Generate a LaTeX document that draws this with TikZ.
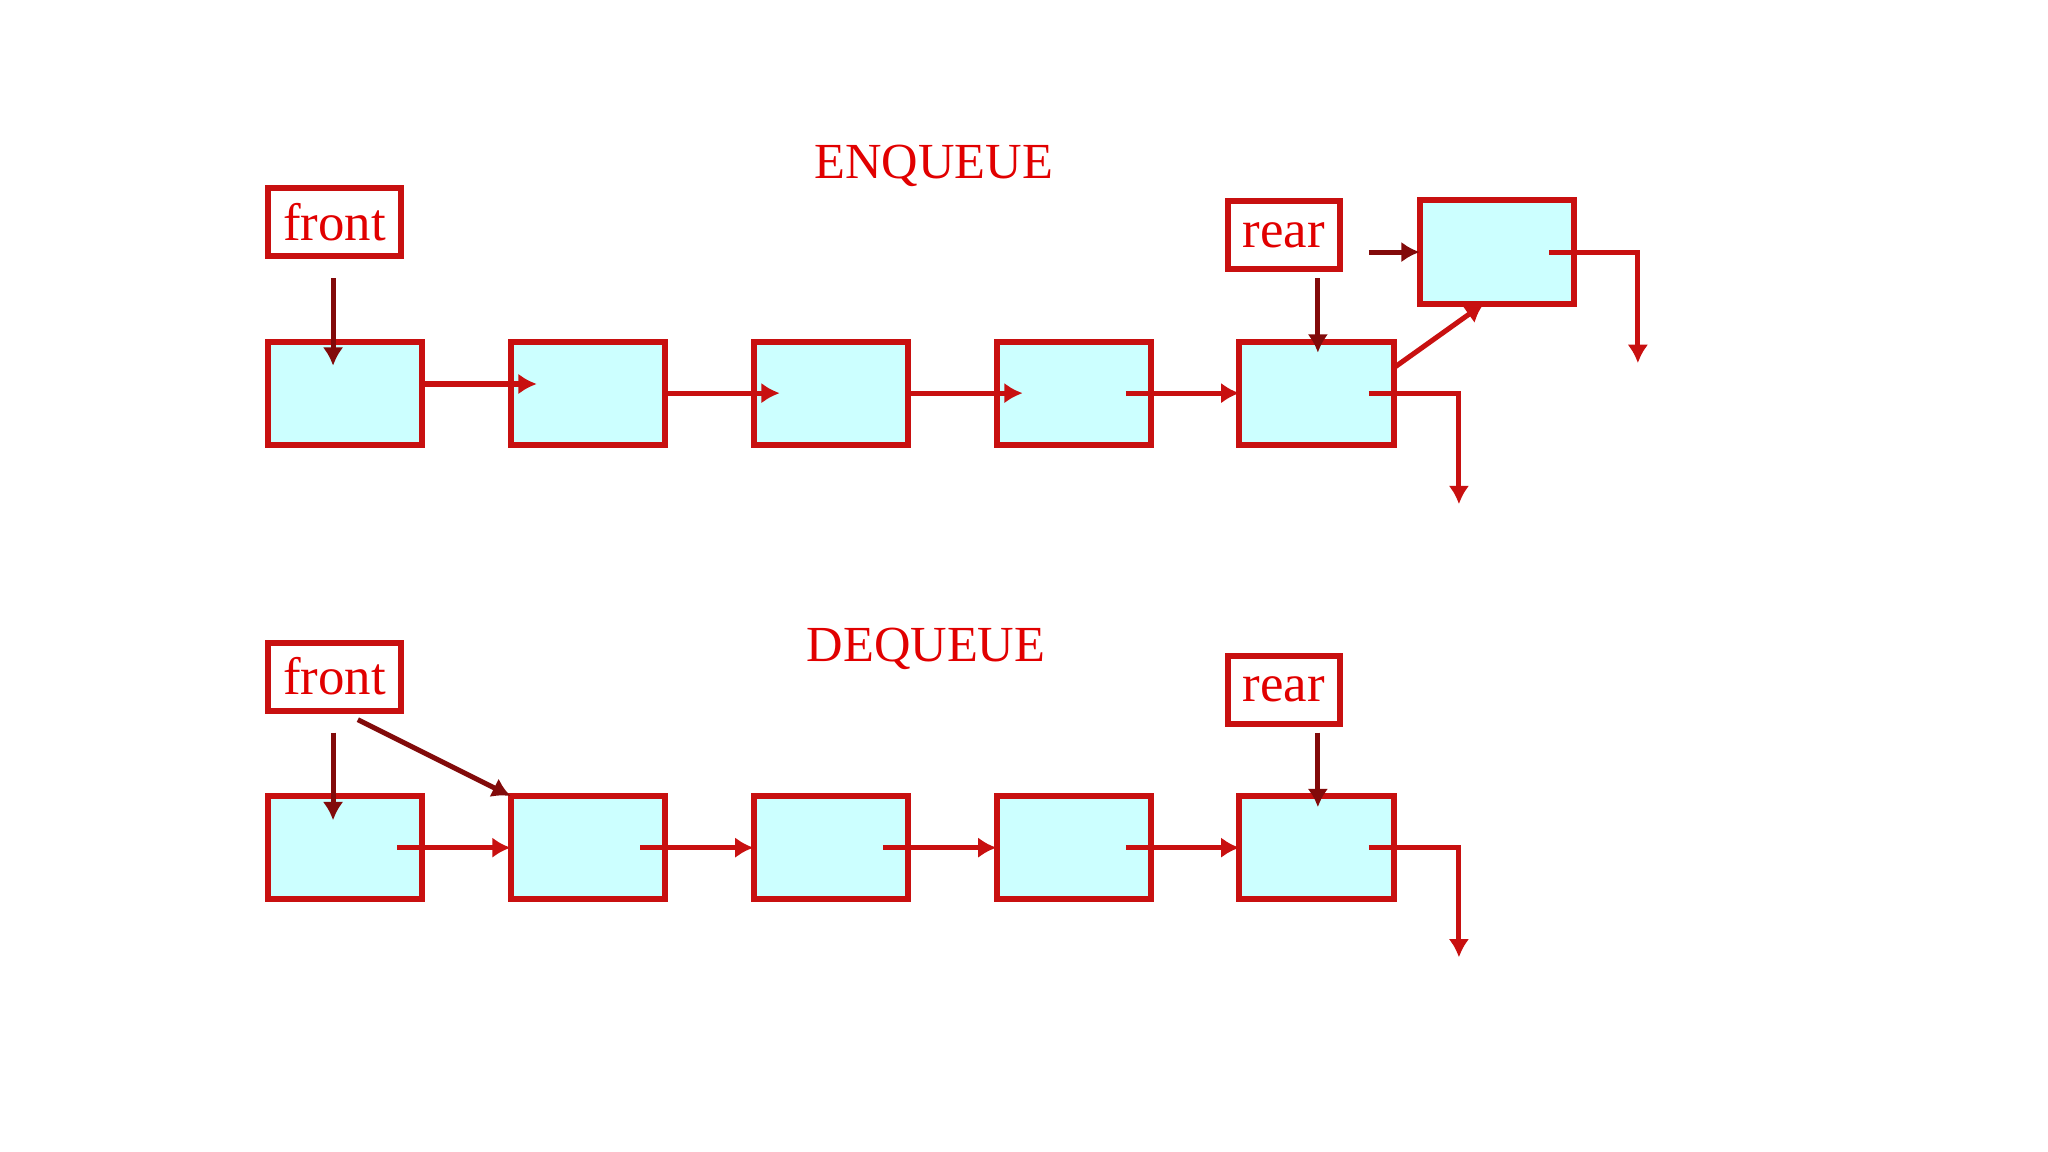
\documentclass[tikz,border=0pt]{standalone}
\usepackage{fontspec}
\setmainfont{Liberation Serif}
\usetikzlibrary{arrows.meta}
\definecolor{bx}{RGB}{200,16,16}
\definecolor{tx}{RGB}{225,0,0}
\definecolor{dk}{RGB}{130,10,10}
\definecolor{cy}{RGB}{204,255,255}
\tikzset{
 cell/.style={draw=bx,fill=cy,line width=1.3pt,minimum width=1.18cm,minimum height=0.79cm,inner sep=0pt,outer sep=0pt},
 lab/.style={draw=bx,fill=white,line width=1.3pt,text=tx,font=\fontsize{11.5}{12}\selectfont,inner sep=0pt,outer sep=0pt},
 ttl/.style={text=tx,font=\fontsize{11}{12}\selectfont},
 lnk/.style={draw=bx,line width=1.1pt,-{Latex[length=4pt,width=4.5pt]}},
 ptr/.style={draw=dk,line width=1.1pt,-{Latex[length=4pt,width=4.5pt]}}
}
\begin{document}
\begin{tikzpicture}[x=0.01cm,y=-0.01cm]
\useasboundingbox (0,0) rectangle (1568,882);
% ENQUEUE
\node[ttl] (t1) at (715,127) {ENQUEUE};
\foreach \i/\x in {1/264,2/450,3/636,4/822,5/1008}{\node[cell] (a\i) at (\x,301) {};}
\node[cell] (an) at (1146,193) {};
\node[lab,minimum width=1.02cm,minimum height=0.52cm] (f1) at (256,170) {front};
\node[lab,minimum width=0.86cm,minimum height=0.52cm] (r1) at (983,180) {rear};
\draw[lnk] (a1.east|-0,294) -- (411,294);
\draw[lnk] (a2.east) -- (597,301);
\draw[lnk] (a3.east) -- (783,301);
\draw[lnk] (862,301) -- (a5.west);
\draw[lnk] (1048,301) -- (1117,301) -- (1117,386);
\draw[lnk] (1186,193) -- (1254,193) -- (1254,278);
\draw[lnk] (1068,281) -- (an.south west-|1136,0);
\draw[ptr] (1048,193) -- (an.west);
\draw[ptr] (255,213) -- (255,280);
\draw[ptr] (1009,213) -- (1009,270);
% DEQUEUE
\node[ttl] (t2) at (709,497) {DEQUEUE};
\foreach \i/\x in {1/264,2/450,3/636,4/822,5/1008}{\node[cell] (b\i) at (\x,649) {};}
\node[lab,minimum width=1.02cm,minimum height=0.52cm] (f2) at (256,518) {front};
\node[lab,minimum width=0.86cm,minimum height=0.52cm] (r2) at (983,528) {rear};
\draw[lnk] (304,649) -- (b2.west);
\draw[lnk] (490,649) -- (b3.west);
\draw[lnk] (676,649) -- (b4.west);
\draw[lnk] (862,649) -- (b5.west);
\draw[lnk] (1048,649) -- (1117,649) -- (1117,733);
\draw[ptr] (255,561) -- (255,628);
\draw[ptr] (274,551) -- (b2.north west);
\draw[ptr] (1009,561) -- (1009,618);
\end{tikzpicture}
\end{document}
